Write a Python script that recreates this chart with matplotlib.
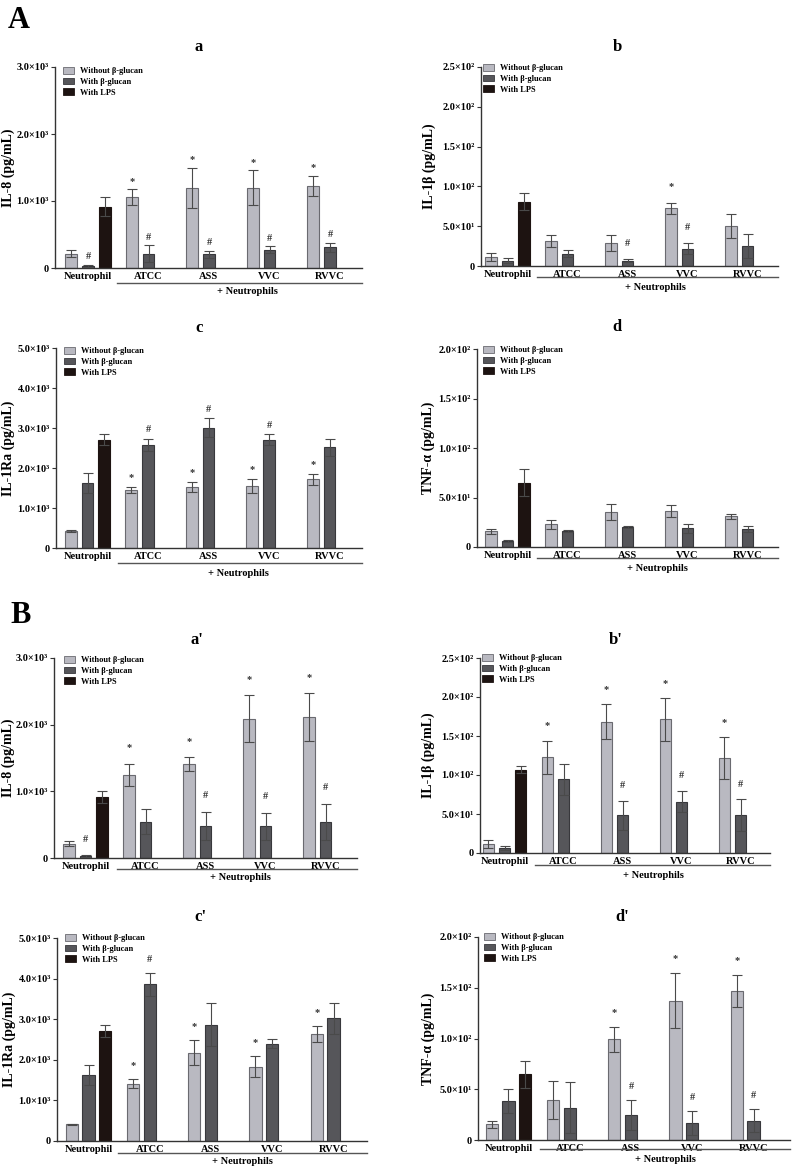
import matplotlib
matplotlib.use("Agg")
import matplotlib.pyplot as plt
from matplotlib.patches import Patch
from matplotlib.lines import Line2D

plt.rcParams['font.family'] = ['Liberation Serif', 'DejaVu Serif']
plt.rcParams['font.weight'] = 'bold'
plt.rcParams['mathtext.default'] = 'regular'

# ---------------- data ----------------
groups = ["Neutrophil", "ATCC", "ASS", "VVC", "RVVC"]
series = ["Without β-glucan", "With β-glucan", "With LPS"]

# Panel a : IL-8
a_wo = [215, 1060, 1200, 1200, 1225]
a_wo_err = [55, 118, 300, 262, 150]
a_w = [30, 215, 205, 275, 310]
a_w_err = [20, 125, 55, 50, 70]
a_lps, a_lps_err = 915, 140
a_star = ["", "*", "*", "*", "*"]
a_hash = ["#", "#", "#", "#", "#"]

# Panel b : IL-1beta
b_wo = [11.7, 31, 29, 72.6, 50.3]
b_wo_err = [5, 7.5, 9.7, 6.7, 14.7]
b_w = [6.7, 15.5, 6.7, 21.8, 25]
b_w_err = [3, 4.5, 2, 6.7, 14.8]
b_lps, b_lps_err = 81, 11
b_star = ["", "", "", "*", ""]
b_hash = ["", "", "#", "#", ""]

# Panel c : IL-1Ra
c_wo = [415, 1453, 1528, 1553, 1719]
c_wo_err = [25, 75, 125, 175, 133]
c_w = [1620, 2575, 3007, 2708, 2517]
c_w_err = [257, 150, 240, 133, 207]
c_lps, c_lps_err = 2708, 141
c_star = ["", "*", "*", "*", "*"]
c_hash = ["", "#", "#", "#", ""]

# Panel d : TNF-alpha
d_wo = [15.9, 23, 35.1, 36.1, 31.1]
d_wo_err = [2.7, 4.7, 8.1, 6, 2.7]
d_w = [6.1, 16.2, 20.3, 18.9, 18.2]
d_w_err = [1.3, 1.4, 1.3, 4.7, 3]
d_lps, d_lps_err = 64.9, 13.5
d_star = ["", "", "", "", ""]
d_hash = ["", "", "", "", ""]

# Panel a' : IL-8
a2_wo = [216, 1244, 1410, 2092, 2112]
a2_wo_err = [35, 170, 100, 350, 360]
a2_w = [30, 542, 487, 477, 547]
a2_w_err = [10, 186, 210, 205, 270]
a2_lps, a2_lps_err = 908, 90
a2_star = ["", "*", "*", "*", "*"]
a2_hash = ["#", "", "#", "#", "#"]

# Panel b' : IL-1beta
b2_wo = [11.9, 122.7, 168.2, 171.2, 121.4]
b2_wo_err = [5, 21, 22.6, 27, 26.8]
b2_w = [6.4, 94.5, 48.1, 66, 48.6]
b2_w_err = [2.5, 20, 19.2, 14, 20.4]
b2_lps, b2_lps_err = 106.5, 4.5
b2_star = ["", "*", "*", "*", "*"]
b2_hash = ["", "", "#", "#", "#"]

# Panel c' : IL-1Ra
c2_wo = [410, 1412, 2176, 1831, 2644]
c2_wo_err = [17, 115, 312, 263, 197]
c2_w = [1634, 3859, 2865, 2397, 3021]
c2_w_err = [246, 287, 534, 115, 378]
c2_lps, c2_lps_err = 2718, 148
c2_star = ["", "*", "*", "*", "*"]
c2_hash = ["", "#", "", "", ""]

# Panel d' : TNF-alpha
d2_wo = [15.4, 39.3, 99.3, 137.4, 147.2]
d2_wo_err = [3.6, 18.7, 12.5, 27.5, 15.8]
d2_w = [38.4, 31.8, 24.6, 16.7, 19]
d2_w_err = [11.4, 25.2, 14.4, 11.8, 11.5]
d2_lps, d2_lps_err = 64.6, 13.1
d2_star = ["", "", "*", "*", "*"]
d2_hash = ["", "", "#", "#", "#"]

ticks_il8 = [0, 1000, 2000, 3000]
ticklabels_il8 = ["0", "1.0×10³", "2.0×10³", "3.0×10³"]
ticks_il1b = [0, 50, 100, 150, 200, 250]
ticklabels_il1b = ["0", "5.0×10¹", "1.0×10²", "1.5×10²", "2.0×10²", "2.5×10²"]
ticks_il1ra = [0, 1000, 2000, 3000, 4000, 5000]
ticklabels_il1ra = ["0", "1.0×10³", "2.0×10³", "3.0×10³", "4.0×10³", "5.0×10³"]
ticks_tnf = [0, 50, 100, 150, 200]
ticklabels_tnf = ["0", "5.0×10¹", "1.0×10²", "1.5×10²", "2.0×10²"]

# ---------------- style / layout ----------------
W, H = 792, 1170
fig = plt.figure(figsize=(W / 100, H / 100), dpi=100)
fig.patch.set_facecolor('white')

C_LIGHT, E_LIGHT = '#b9b9c1', '#6a6a70'
C_DARK, E_DARK = '#56565a', '#38383c'
C_BLACK = '#1d1311'
ERRC = '#4a4a4a'
AXC = '#333333'
G = 3.65
BW = 0.72


def fx(px):
    return px / W


def fy(py):
    return 1 - py / H


def panel(lay, title, ylabel, yticks, yticklabels, wo, wo_e, w, w_e, lps, lps_e, stars, hashes):
    l, r, t, b = lay['l'], lay['r'], lay['t'], lay['b']
    ax = fig.add_axes([fx(l), fy(b), (r - l) / W, (b - t) / H])
    scale = (lay['c4'] - lay['c0']) / (4 * G)
    ax.set_xlim((l - lay['c0']) / scale, (r - lay['c0']) / scale)
    ax.set_ylim(0, yticks[-1])
    centers = [i * G for i in range(len(groups))]
    x_wo = [c - 1 for c in centers]
    x_w = centers
    x_lps = centers[0] + 1
    ax.bar(x_wo, wo, BW, color=C_LIGHT, edgecolor=E_LIGHT, linewidth=0.8, zorder=2)
    ax.bar(x_w, w, BW, color=C_DARK, edgecolor=E_DARK, linewidth=0.8, zorder=2)
    ax.bar([x_lps], [lps], BW, color=C_BLACK, edgecolor=C_BLACK, linewidth=0.8, zorder=2)
    ek = dict(fmt='none', ecolor=ERRC, elinewidth=0.8, capsize=3.5, capthick=0.8, zorder=3)
    ax.errorbar(x_wo, wo, yerr=wo_e, **ek)
    ax.errorbar(x_w, w, yerr=w_e, **ek)
    ax.errorbar([x_lps], [lps], yerr=[lps_e], **ek)
    off = lay['off'] * 0.72
    for xs, ys, es, marks in ((x_wo, wo, wo_e, stars), (x_w, w, w_e, hashes)):
        for xx, yy, ee, m in zip(xs, ys, es, marks):
            if m:
                ax.annotate(m, (xx, yy + ee), xytext=(0, off), textcoords='offset points',
                            ha='center', va='center', fontsize=7.5, color='#333333')
    for s in ('top', 'right'):
        ax.spines[s].set_visible(False)
    for s in ('left', 'bottom'):
        ax.spines[s].set_color(AXC)
        ax.spines[s].set_linewidth(1.0)
    ax.set_yticks(yticks)
    ax.set_yticklabels(yticklabels, fontsize=7.5, fontweight='bold')
    ax.tick_params(axis='y', length=3, width=0.8, color=AXC, pad=1.5)
    ax.set_xticks(centers)
    ax.set_xticklabels(groups, fontsize=7.5, fontweight='bold')
    ax.tick_params(axis='x', length=0, pad=3)
    ax.set_ylabel(ylabel, fontsize=10, fontweight='bold')
    ax.yaxis.label.set_verticalalignment('center')
    ax.yaxis.set_label_coords((lay['ylx'] - l) / (r - l), 0.5)
    # legend
    handles = [Patch(facecolor=C_LIGHT, edgecolor=E_LIGHT, linewidth=0.6),
               Patch(facecolor=C_DARK, edgecolor=E_DARK, linewidth=0.6),
               Patch(facecolor=C_BLACK, edgecolor=C_BLACK, linewidth=0.6)]
    ax.legend(handles, series, loc='upper left',
              bbox_to_anchor=((lay['lgx'] - l) / (r - l), 1 - (lay['lgy'] - t) / (b - t)),
              frameon=False, prop=dict(size=6, weight='bold'), handlelength=1.3,
              handleheight=0.85, labelspacing=0.3, handletextpad=0.7,
              borderpad=0, borderaxespad=0)
    # title
    fig.text(fx(lay['tx']), fy(lay['ty']), title, ha='center', va='center',
             fontsize=12, fontweight='bold')
    # underline + label
    fig.add_artist(Line2D([fx(lay['ul0']), fx(r)], [fy(lay['uly']), fy(lay['uly'])],
                          color='#555555', linewidth=1.0))
    fig.text(fx(lay['ntx']), fy(lay['nty']), "+ Neutrophils", ha='center', va='center',
             fontsize=7.5, fontweight='bold')
    return ax


LAY = {
    'a': dict(l=55, r=362, t=67, b=268, c0=88, c4=330, ylx=8, tx=199, ty=47,
              ul0=117, uly=283, ntx=247, nty=292, off=8, lgx=63, lgy=67),
    'b': dict(l=481, r=778, t=67, b=266, c0=507.5, c4=747.5, ylx=429, tx=617, ty=47,
              ul0=537, uly=277, ntx=655, nty=287, off=16, lgx=483, lgy=64),
    'c': dict(l=56, r=362, t=348, b=548, c0=87.5, c4=329.5, ylx=8, tx=199, ty=328,
              ul0=118, uly=563, ntx=238, nty=573, off=9, lgx=64, lgy=347),
    'd': dict(l=477, r=778, t=349, b=547, c0=507.5, c4=747.5, ylx=428, tx=617, ty=327,
              ul0=537, uly=558, ntx=657, nty=568, off=0, lgx=483, lgy=346),
    "a'": dict(l=54, r=357, t=658, b=858, c0=85.5, c4=325.5, ylx=8, tx=197, ty=640,
               ul0=117, uly=869, ntx=240, nty=878, off=16, lgx=64, lgy=656),
    "b'": dict(l=480, r=770, t=658, b=853, c0=504.5, c4=740.5, ylx=428, tx=616, ty=640,
               ul0=535, uly=865, ntx=653, nty=875, off=15, lgx=482, lgy=654),
    "c'": dict(l=57, r=367, t=938, b=1141, c0=88.5, c4=333.5, ylx=9, tx=200, ty=917,
               ul0=118, uly=1153, ntx=242, nty=1162, off=13, lgx=65, lgy=934),
    "d'": dict(l=478, r=790, t=937, b=1140, c0=508.5, c4=753.5, ylx=428, tx=622, ty=917,
               ul0=540, uly=1149, ntx=665, nty=1159, off=14, lgx=484, lgy=933),
}

panel(LAY['a'], 'a', 'IL-8 (pg/mL)', ticks_il8, ticklabels_il8,
      a_wo, a_wo_err, a_w, a_w_err, a_lps, a_lps_err, a_star, a_hash)
panel(LAY['b'], 'b', 'IL-1β (pg/mL)', ticks_il1b, ticklabels_il1b,
      b_wo, b_wo_err, b_w, b_w_err, b_lps, b_lps_err, b_star, b_hash)
panel(LAY['c'], 'c', 'IL-1Ra (pg/mL)', ticks_il1ra, ticklabels_il1ra,
      c_wo, c_wo_err, c_w, c_w_err, c_lps, c_lps_err, c_star, c_hash)
panel(LAY['d'], 'd', 'TNF-α (pg/mL)', ticks_tnf, ticklabels_tnf,
      d_wo, d_wo_err, d_w, d_w_err, d_lps, d_lps_err, d_star, d_hash)
panel(LAY["a'"], "a'", 'IL-8 (pg/mL)', ticks_il8, ticklabels_il8,
      a2_wo, a2_wo_err, a2_w, a2_w_err, a2_lps, a2_lps_err, a2_star, a2_hash)
panel(LAY["b'"], "b'", 'IL-1β (pg/mL)', ticks_il1b, ticklabels_il1b,
      b2_wo, b2_wo_err, b2_w, b2_w_err, b2_lps, b2_lps_err, b2_star, b2_hash)
panel(LAY["c'"], "c'", 'IL-1Ra (pg/mL)', ticks_il1ra, ticklabels_il1ra,
      c2_wo, c2_wo_err, c2_w, c2_w_err, c2_lps, c2_lps_err, c2_star, c2_hash)
panel(LAY["d'"], "d'", 'TNF-α (pg/mL)', ticks_tnf, ticklabels_tnf,
      d2_wo, d2_wo_err, d2_w, d2_w_err, d2_lps, d2_lps_err, d2_star, d2_hash)

fig.text(fx(8), fy(28), 'A', ha='left', va='baseline', fontsize=22, fontweight='bold')
fig.text(fx(10), fy(623), 'B', ha='left', va='baseline', fontsize=22, fontweight='bold')

fig.savefig('out.png', dpi=100, facecolor='white')
